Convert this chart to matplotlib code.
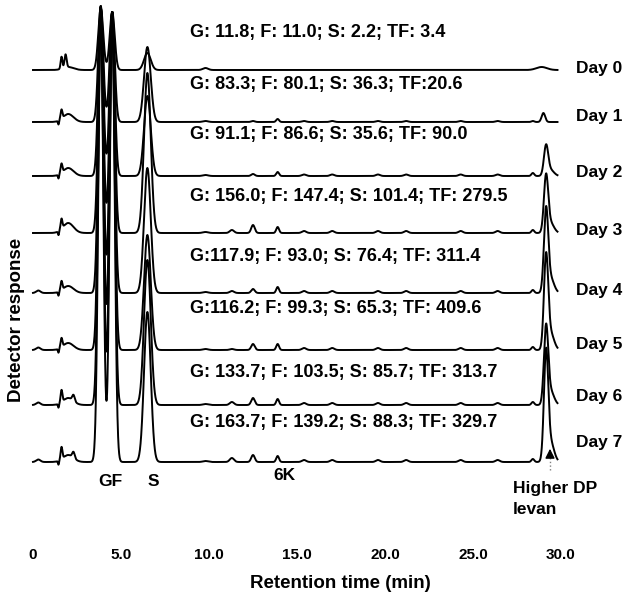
import numpy as np
import matplotlib
matplotlib.use('Agg')
import matplotlib.pyplot as plt

plt.rcParams['font.family'] = ['Liberation Sans', 'DejaVu Sans']

# --- data (heights in detector units) ---
days = ['Day 0', 'Day 1', 'Day 2', 'Day 3', 'Day 4', 'Day 5', 'Day 6', 'Day 7']
notes = ['G: 11.8; F: 11.0; S: 2.2; TF: 3.4',
         'G: 83.3; F: 80.1; S: 36.3; TF:20.6',
         'G: 91.1; F: 86.6; S: 35.6; TF: 90.0',
         'G: 156.0; F: 147.4; S: 101.4; TF: 279.5',
         'G:117.9; F: 93.0; S: 76.4; TF: 311.4',
         'G:116.2; F: 99.3; S: 65.3; TF: 409.6',
         'G: 133.7; F: 103.5; S: 85.7; TF: 313.7',
         'G: 163.7; F: 139.2; S: 88.3; TF: 329.7']
xtick_vals = [0, 5, 10, 15, 20, 25, 30]
xtick_labels = ['0', '5.0', '10.0', '15.0', '20.0', '25.0', '30.0']

# peaks: (retention time, sigma) and height for each day
g_peak = (3.85, 0.14)
g_height = [62, 116, 168, 226, 287, 342, 398, 455]
f_peak = (4.5, 0.14)
f_height = [58, 110, 164, 221, 281, 338, 393, 450]
s_peak = (6.5, 0.19)
s_height = [17, 75, 80, 160, 125, 115, 145, 150]
levan_peak = (29.15, 0.12)
levan_height = [0, 0, 29, 55, 80, 90, 75, 105]
levan_tail = (29.4, 0.2)
levan_tail_height = [0, 0, 6, 10, 15, 17, 14, 20]
early_bump = (0.3, 0.12)
early_bump_height = [0, 0, 0, 0, 2.5, 2.5, 2.5, 2.5]
dip = (1.45, 0.03)
dip_height = [0, -4, -4, -4, -4, -4, -4, -4]
early_sharp = (1.62, 0.05)
early_sharp_height = [12, 9, 9, 10, 9, 9, 12, 12]
early_second = (1.85, 0.06)
early_second_height = [13, 0, 0, 0, 0, 0, 0, 0]
early_broad = (2.0, 0.3)
early_broad_height = [3, 8, 8, 10, 7, 7, 7, 7]
early_late = (2.3, 0.07)
early_late_height = [0, 0, 0, 0, 0, 0, 6, 6]
p98 = (9.8, 0.15)
p98_height = [2, 1, 1, 1, 1, 1, 1, 1]
p113 = (11.3, 0.12)
p113_height = [0, 0, 0, 3, 2, 1, 3, 4]
p125 = (12.5, 0.1)
p125_height = [0, 1, 2, 8, 4, 6, 7, 7]
k6_peak = (13.9, 0.08)
k6_height = [0, 3, 4, 6, 6, 6, 6, 6]
minor_rt = [15.4, 17.0, 19.6, 21.2, 24.3, 26.4]
minor_height = [0, 1, 1.5, 2, 2, 2, 2, 2]
p284 = (28.4, 0.08)
p284_height = [0, 1, 3, 3, 3, 3, 3, 3]
day0_hump = (28.9, 0.3)
day0_hump_height = [3, 0, 0, 0, 0, 0, 0, 0]
day1_levan = (29.0, 0.1)
day1_levan_height = [0, 9, 0, 0, 0, 0, 0, 0]

# vertical position of each trace (pixel rows of the baselines)
baseline_px = [70, 122, 176, 233, 293, 350, 405, 462]

W, H = 624, 596
AX_BOTTOM = 545  # pixel row of the axes bottom
t = np.linspace(0, 29.8, 4000)

peaks = [(g_peak, g_height), (f_peak, f_height), (s_peak, s_height),
         (levan_peak, levan_height), (levan_tail, levan_tail_height),
         (early_bump, early_bump_height), (dip, dip_height),
         (early_sharp, early_sharp_height), (early_second, early_second_height),
         (early_broad, early_broad_height), (early_late, early_late_height),
         (p98, p98_height), (p113, p113_height), (p125, p125_height),
         (k6_peak, k6_height), (p284, p284_height),
         (day0_hump, day0_hump_height), (day1_levan, day1_levan_height)]
peaks += [((rt, 0.12), minor_height) for rt in minor_rt]


def gauss(rt, sig):
    return np.exp(-(t - rt) ** 2 / (2 * sig ** 2))


def px(x, y):
    return x / W, 1 - y / H


fig = plt.figure(figsize=(W / 100, H / 100), dpi=100)
ax = fig.add_axes([0, (H - AX_BOTTOM) / H, 1, AX_BOTTOM / H])

for i, day in enumerate(days):
    sig = np.zeros_like(t)
    for (rt, s), h in peaks:
        sig += h[i] * gauss(rt, s)
    ax.plot(t, AX_BOTTOM - baseline_px[i] + sig, color='black', lw=1.4)

x0, scale = 33, 17.6  # px of t=0 and px per minute
ax.set_xlim(-x0 / scale, (W - x0) / scale)
ax.set_ylim(0, AX_BOTTOM)
ax.set_xticks(xtick_vals)
ax.set_xticklabels(xtick_labels, fontsize=11, fontweight='bold')
ax.tick_params(axis='x', length=0, pad=2)
ax.set_yticks([])
for sp in ax.spines.values():
    sp.set_visible(False)

# annotations above each trace
note_y = [33, 85, 135, 197, 256, 309, 373, 423]
for txt, y in zip(notes, note_y):
    fig.text(*px(190, y), txt, fontsize=13, fontweight='bold', va='center', ha='left')

day_y = [68, 117, 173, 230, 291, 345, 396, 443]
for d, y in zip(days, day_y):
    fig.text(*px(576, y), d, fontsize=12.5, fontweight='bold', va='center', ha='left')

fig.text(*px(110, 482), 'GF', fontsize=12.5, fontweight='bold', ha='center', va='center')
fig.text(*px(153, 482), 'S', fontsize=12.5, fontweight='bold', ha='center', va='center')
fig.text(*px(284, 475), '6K', fontsize=12.5, fontweight='bold', ha='center', va='center')
fig.text(*px(513, 488), 'Higher DP', fontsize=12.5, fontweight='bold', ha='left', va='center')
fig.text(*px(513, 510), 'levan', fontsize=12.5, fontweight='bold', ha='left', va='center')

# arrow pointing at the levan peak
xa = (550 - x0) / scale
ax.plot([xa, xa], [AX_BOTTOM - 470, AX_BOTTOM - 455], color='gray', ls=':', lw=1)
ax.annotate('', xy=(xa, AX_BOTTOM - 446), xytext=(xa, AX_BOTTOM - 456),
            arrowprops=dict(arrowstyle='-|>', color='black', lw=1, mutation_scale=14))

fig.text(*px(340, 583), 'Retention time (min)', fontsize=13.5, fontweight='bold',
         ha='center', va='center')
fig.text(*px(17, 320), 'Detector response', fontsize=13.5, fontweight='bold',
         ha='center', va='center', rotation=90)

fig.savefig('out.png', dpi=100)
